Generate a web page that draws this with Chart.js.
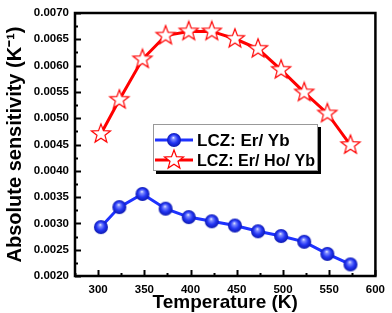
<!DOCTYPE html>
<html>
<head>
<meta charset="utf-8">
<script src="https://cdn.jsdelivr.net/npm/chart.js@4.4.0/dist/chart.umd.min.js"></script>
<style>
  html, body { margin: 0; padding: 0; background: #fff; }
  #wrap { width: 392px; height: 313px; }
</style>
</head>
<body>
<div id="wrap"><canvas id="chart" width="392" height="313"></canvas></div>
<script>
// ====== data ======
const temperatures = [303, 323, 348, 373, 398, 423, 448, 473, 498, 523, 548, 573];
const erYb   = [0.00293, 0.00331, 0.00356, 0.00328, 0.00312, 0.00304, 0.00296, 0.00285, 0.00276, 0.00265, 0.00242, 0.00222];
const erHoYb = [0.00470, 0.00535, 0.00612, 0.00657, 0.00665, 0.00665, 0.00651, 0.00632, 0.00592, 0.00549, 0.00509, 0.00449];
const seriesLabels = ["LCZ: Er/ Yb", "LCZ: Er/ Ho/ Yb"];
const xTickLabels = [300, 350, 400, 450, 500, 550, 600];
const yTickLabels = ["0.0020", "0.0025", "0.0030", "0.0035", "0.0040", "0.0045", "0.0050", "0.0055", "0.0060", "0.0065", "0.0070"];

const BLUE = "#1e32ff";
const RED = "#ff0000";
const FONT = "Arial, 'Liberation Sans', sans-serif";

// ====== marker images ======
function makeBall(r) {
  const c = document.createElement("canvas");
  c.width = c.height = r * 2 + 2;
  const g = c.getContext("2d");
  const m = r + 1;
  const grad = g.createRadialGradient(m - r * 0.1, m - r * 0.35, 0, m, m, r);
  grad.addColorStop(0, "#f4f6ff");
  grad.addColorStop(0.22, "#7f8cff");
  grad.addColorStop(0.6, "#2436f4");
  grad.addColorStop(1, "#0c18b0");
  g.beginPath();
  g.arc(m, m, r, 0, Math.PI * 2);
  g.fillStyle = grad;
  g.fill();
  return c;
}

function makeStar(R) {
  const c = document.createElement("canvas");
  c.width = c.height = R * 2 + 4;
  const g = c.getContext("2d");
  const m = R + 2;
  const r = R * 0.42;
  g.beginPath();
  for (let i = 0; i < 10; i++) {
    const a = -Math.PI / 2 + i * Math.PI / 5;
    const rad = i % 2 ? r : R;
    const px = m + rad * Math.cos(a);
    const py = m + rad * Math.sin(a);
    if (i === 0) g.moveTo(px, py); else g.lineTo(px, py);
  }
  g.closePath();
  g.fillStyle = "#fff";
  g.fill();
  g.strokeStyle = RED;
  g.lineWidth = 1.2;
  g.stroke();
  return c;
}

const ballImg = makeBall(7);
const starImg = makeStar(10);

// ====== frame + inward ticks ======
const frameTicks = {
  id: "frameTicks",
  afterDraw(chart) {
    const { ctx, chartArea: a, scales } = chart;
    ctx.save();
    ctx.strokeStyle = "#000";
    ctx.lineWidth = 2;
    scales.x.ticks.forEach((t) => {
      const px = Math.round(scales.x.getPixelForValue(t.value)) + 0.5;
      const len = xTickLabels.includes(t.value) ? 6 : 3;
      ctx.beginPath();
      ctx.moveTo(px, a.bottom);
      ctx.lineTo(px, a.bottom - len);
      ctx.stroke();
    });
    scales.y.ticks.forEach((t) => {
      const py = Math.round(scales.y.getPixelForValue(t.value)) + 0.5;
      const len = yTickLabels.includes(t.value.toFixed(4)) ? 6 : 3;
      ctx.beginPath();
      ctx.moveTo(a.left, py);
      ctx.lineTo(a.left + len, py);
      ctx.stroke();
    });
    ctx.lineWidth = 2.5;
    ctx.strokeRect(a.left, a.top, a.right - a.left, a.bottom - a.top);
    ctx.restore();
  },
};

// ====== legend box ======
const boxLegend = {
  id: "boxLegend",
  afterDraw(chart) {
    const ctx = chart.ctx;
    const L = 153, T = 124, W = 165, H = 47;
    ctx.save();
    ctx.fillStyle = "#000";
    ctx.fillRect(L + 3, T + 3, W, H);
    ctx.fillStyle = "#fff";
    ctx.fillRect(L, T, W, H);
    ctx.strokeStyle = "#999";
    ctx.lineWidth = 1;
    ctx.strokeRect(L + 0.5, T + 0.5, W - 1, H - 1);

    chart.data.datasets.forEach((ds, i) => {
      const y = T + 16 + i * 20;
      ctx.strokeStyle = ds.borderColor;
      ctx.lineWidth = 3;
      ctx.beginPath();
      ctx.moveTo(L + 2, y);
      ctx.lineTo(L + 40, y);
      ctx.stroke();
      const img = ds.pointStyle;
      ctx.drawImage(img, L + 21 - img.width / 2, y - img.height / 2);
      ctx.fillStyle = "#000";
      ctx.font = "bold 17px " + FONT;
      ctx.textBaseline = "middle";
      ctx.fillText(ds.label, L + 44, y + 1, 118);
    });
    ctx.restore();
  },
};

const pts = (vals) => temperatures.map((t, i) => ({ x: t, y: vals[i] }));

new Chart(document.getElementById("chart"), {
  type: "line",
  data: {
    datasets: [
      {
        label: seriesLabels[0],
        data: pts(erYb),
        borderColor: BLUE,
        borderWidth: 3,
        pointStyle: ballImg,
        pointRadius: 7,
      },
      {
        label: seriesLabels[1],
        data: pts(erHoYb),
        borderColor: RED,
        borderWidth: 3,
        pointStyle: starImg,
        pointRadius: 10,
      },
    ],
  },
  options: {
    responsive: false,
    animation: false,
    layout: { padding: { top: 6, right: 10, left: 0, bottom: 0 } },
    plugins: { legend: { display: false }, tooltip: { enabled: false } },
    scales: {
      x: {
        type: "linear",
        min: 275,
        max: 600,
        afterFit: (s) => { s.height = 37; },
        grid: { display: false, drawTicks: false },
        border: { display: false },
        ticks: {
          stepSize: 25,
          autoSkip: false,
          maxRotation: 0,
          padding: 7,
          color: "#000",
          font: { family: FONT, size: 11.5, weight: "bold" },
          callback: (v) => (xTickLabels.includes(v) ? String(v) : ""),
        },
        title: {
          display: true,
          text: "Temperature (K)",
          color: "#000",
          padding: { top: 0, bottom: -1 },
          font: { family: FONT, size: 19, weight: "bold" },
        },
      },
      y: {
        min: 0.002,
        max: 0.007,
        afterFit: (s) => { s.width = 75; },
        grid: { display: false, drawTicks: false },
        border: { display: false },
        ticks: {
          stepSize: 0.00025,
          autoSkip: false,
          padding: 6,
          color: "#000",
          font: { family: FONT, size: 11.5, weight: "bold" },
          callback: (v) => (yTickLabels.includes(v.toFixed(4)) ? v.toFixed(4) : ""),
        },
        title: {
          display: true,
          text: "Absolute sensitivity (K\u207B\u00B9)",
          color: "#000",
          padding: { top: 3, bottom: 0 },
          font: { family: FONT, size: 20, weight: "bold" },
        },
      },
    },
  },
  plugins: [frameTicks, boxLegend],
});
</script>
</body>
</html>
